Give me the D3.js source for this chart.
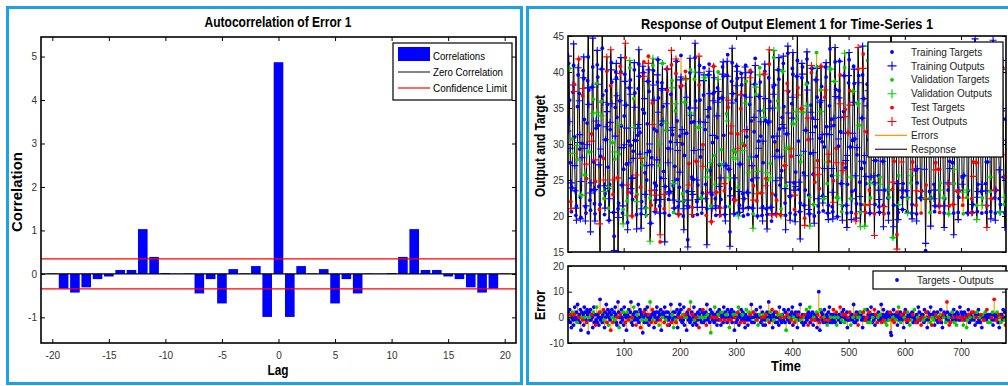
<!DOCTYPE html>
<html>
<head>
<meta charset="utf-8">
<script src="https://cdnjs.cloudflare.com/ajax/libs/d3/7.8.5/d3.min.js"></script>
<style>
  body { margin: 0; background: #fff; }
  svg { display: block; font-family: "Liberation Sans", Arial, Helvetica, sans-serif; }
  .tick text { fill: #333; font-size: 10px; }
  .tick line { stroke: #000; stroke-width: 1; }
</style>
</head>
<body>
<svg id="chart" width="1008" height="386"></svg>
<script>
// ---- autocorrelation of error
const lags = [-20,-19,-18,-17,-16,-15,-14,-13,-12,-11,-10,-9,-8,-7,-6,-5,-4,-3,-2,-1,0,
              1,2,3,4,5,6,7,8,9,10,11,12,13,14,15,16,17,18,19,20];
const correlations = [0.01,-0.34,-0.43,-0.31,-0.12,-0.06,0.09,0.09,1.03,0.39,0.02,0.005,0.01,-0.45,-0.12,-0.68,0.11,0.01,0.18,-0.99,
                      4.87,
                      -0.99,0.18,0.01,0.11,-0.68,-0.12,-0.45,0.01,0.005,0.02,0.39,1.03,0.09,0.09,-0.06,-0.12,-0.31,-0.43,-0.34,0.01];
const confidenceLimit = 0.345;
const lagTicks = [-20,-15,-10,-5,0,5,10,15,20];
const corrTicks = [-1,0,1,2,3,4,5];

// ---- response of output element 1 (time steps 1..780)
const targets = [
  33.8,41.2,40.5,36.1,27.4,22.0,20.6,23.9,30.7,37.2, 40.9,38.3,31.0,23.5,20.1,21.4,27.8,35.2,39.6,41.8, 37.0,29.3,22.6,19.8,22.9,30.1,36.7,40.2,39.1,33.4,
  25.7,21.3,20.4,25.2,32.9,38.8,42.1,37.5,28.9,22.2, 20.8,23.6,31.4,37.9,40.7,36.2,27.5,21.7,20.3,24.8, 32.2,38.4,41.0,39.3,32.6,24.1,20.9,21.6,28.3,35.9,
  40.4,43.3,36.8,28.0,22.4,20.2,23.1,30.6,37.4,40.1, 35.5,26.8,21.1,19.4,24.4,32.0,38.1,41.3,38.6,30.2, 23.0,20.5,17.2,27.9,35.1,40.0,39.2,33.7,25.3,21.0,
  21.8,28.6,36.0,40.8,40.0,32.5,24.3,20.4,20.9,26.5, 33.9,39.7,42.0,35.4,27.2,22.1,19.1,23.3,30.4,37.8, 40.6,38.9,29.8,23.2,20.0,22.3,29.0,36.3,40.3,37.1,
  30.5,22.7,20.2,23.0,31.2,37.7,41.1,39.4,31.6,24.0, 20.3,22.0,27.1,34.8,39.9,41.4,34.3,26.0,21.2,20.1, 25.0,32.8,38.7,42.2,37.3,29.0,22.5,19.0,21.5,28.1,
  35.7,40.9,40.2,32.1,24.6,20.6,20.9,24.2,31.8,38.6, 41.7,36.4,27.0,21.4,16.4,25.3,32.7,38.5,41.2,35.2, 26.2,21.0,20.4,24.1,31.9,37.6,40.4,37.4,29.4,22.3,
  20.1,23.4,30.3,36.9,41.0,38.8,31.3,24.2,20.5,21.1, 26.9,34.6,39.8,41.5,33.2,25.1,21.3,20.2,24.0,31.1, 37.9,42.3,38.1,30.0,23.1,20.0,22.1,28.4,35.8,40.1,
  39.0,31.5,23.4,16.7,21.2,27.3,35.0,39.9,40.3,33.0, 25.4,21.2,20.0,25.1,33.1,39.0,42.0,36.0,27.6,22.0, 20.2,24.3,32.3,38.2,40.9,36.1,28.2,22.5,20.4,23.2,
  29.9,36.8,40.6,39.2,32.0,24.4,20.1,21.0,26.4,33.8, 39.6,41.1,35.0,26.3,21.4,19.2,23.0,30.2,37.0,40.8, 37.2,28.4,22.4,20.1,23.3,30.9,37.8,40.0,36.3,27.1,
  21.2,20.1,22.3,29.2,36.4,40.7,39.4,31.2,23.5,20.2, 21.3,27.0,34.2,39.5,42.4,35.1,26.5,21.3,17.8,23.8, 31.5,38.7,41.3,37.0,29.1,22.3,20.3,22.2,28.9,36.1,
  40.8,39.1,31.4,24.0,20.4,21.5,27.2,34.9,39.8,38.2, 30.1,23.1,20.0,22.4,29.8,36.7,40.9,38.7,31.0,23.3, 20.2,21.2,28.0,35.5,40.2,40.0,33.2,25.0,21.1,20.3,
  24.2,31.7,38.3,41.9,36.9,28.3,22.1,20.0,23.2,30.4, 36.6,40.6,38.6,31.1,23.2,20.1,21.3,27.4,34.7,39.7, 40.1,33.3,25.2,21.0,20.2,25.0,33.0,39.2,41.1,35.9,
  27.3,21.2,19.3,23.1,31.0,37.9,42.0,38.2,30.3,22.9, 20.3,22.2,29.1,36.0,40.3,39.0,32.1,24.3,20.2,21.0, 26.3,33.7,40.1,41.2,35.2,27.0,21.8,20.1,24.2,31.4,
  38.4,42.6,37.3,29.5,22.7,20.4,22.8,28.3,35.6,40.5, 39.7,32.8,24.6,20.9,20.2,26.1,33.5,39.4,41.6,37.8, 30.4,23.7,20.6,21.8,27.5,34.9,39.2,40.7,34.4,26.0,
  21.5,19.7,23.6,31.9,38.3,41.8,38.5,30.6,22.9,20.3, 22.6,28.7,35.4,39.9,40.5,33.6,25.8,21.6,20.0,24.7, 32.4,38.9,42.7,36.5,27.7,21.4,20.5,23.8,30.8,37.5,
  40.8,38.0,30.3,22.8,20.7,22.4,29.6,36.5,40.7,39.3, 32.4,24.5,20.4,21.5,27.6,35.3,43.2,40.4,33.4,25.6, 21.3,20.6,24.9,32.6,38.7,41.4,37.6,29.4,22.6,19.9,
  22.5,29.7,37.4,41.5,39.6,31.7,24.5,20.6,21.4,27.3, 34.5,39.5,40.6,34.8,26.7,21.5,20.4,24.4,31.6,38.5, 41.7,37.4,29.6,22.4,20.5,23.4,30.5,37.3,40.8,38.4,
  30.7,23.6,20.3,21.7,28.5,35.6,40.4,39.5,32.6,24.7, 20.5,21.6,26.6,33.6,39.6,42.5,36.3,27.4,21.6,20.5, 24.5,31.7,38.3,41.6,38.4,30.6,23.6,20.4,22.5,29.4,
  36.6,41.4,39.6,32.4,24.6,20.3,21.6,27.7,34.6,39.7, 40.4,33.5,25.6,21.3,20.5,25.4,33.5,39.5,41.6,36.4, 27.6,21.5,20.3,23.6,31.4,38.6,42.4,38.5,30.4,22.5,
  20.4,22.6,29.5,36.4,40.6,39.4,31.6,23.7,17.0,21.5, 27.6,35.4,40.4,40.5,33.5,17.4,21.5,20.5,25.6,33.4, 39.6,41.5,36.7,28.5,22.6,20.9,24.5,31.6,38.4,41.4,
  38.6,30.5,23.5,20.6,22.4,29.6,36.5,40.4,39.5,32.4, 24.6,20.4,21.6,27.5,35.4,40.6,41.4,34.5,26.4,21.5, 20.3,24.6,32.5,39.4,41.6,37.5,28.6,22.5,20.4,23.5,
  31.4,38.5,41.3,37.6,29.5,22.4,15.2,24.3,31.5,37.4, 40.6,38.5,30.4,23.4,20.5,22.6,29.5,36.4,40.5,39.6, 32.5,24.4,20.6,21.4,27.4,35.6,40.4,41.3,34.6,26.5,
  21.4,20.5,24.6,32.4,38.5,41.4,37.6,29.4,22.5,20.4, 22.4,29.6,36.5,40.6,39.4,31.5,23.6,20.3,21.4,27.6, 34.4,39.5,42.3,36.5,27.4,21.6,20.4,24.5,31.6,38.4,
  41.3,38.6,30.5,23.4,20.5,22.6,28.4,35.5,40.4,40.3, 33.6,25.4,21.5,20.3,25.6,33.5,39.4,41.5,36.6,28.4, 22.6,20.4,23.5,30.6,37.4,40.5,37.6,29.5,22.4,20.5,
  21.6,27.5,34.6,39.4,41.6,35.5,27.4,21.5,20.6,24.4, 31.6,38.5,42.5,38.4,30.5,23.4,20.4,22.5,29.6,36.5, 40.4,39.5,32.6,24.5,20.5,21.4,27.5,35.4,40.5,38.6,
  31.5,23.4,20.6,22.4,30.5,37.6,41.4,38.5,30.6,22.5, 20.4,23.6,31.4,38.6,41.5,37.4,29.6,22.4,20.5,21.6, 28.5,35.6,40.4,40.6,33.5,25.4,21.6,20.4,25.5,33.4
];
// error = target - output
const errors = [
  2,-1,0,3,-2,1,-4,0,2,-1, -3,1,4,0,-1,2,-2,5,-1,0, 1,-2,3,-5,0,2,-1,1,-3,4,
  0,2,-1,-2,3,1,-6,2,0,-1, 3,-1,1,0,-4,2,4,-2,1,-3, -1,4,-2,1,0,-3,2,7,-1,2,
  0,-2,1,3,-1,-4,2,0,5,-2, 1,3,-3,0,2,-1,-5,1,3,0, -2,0,2,-1,4,1,-2,-3,0,6,
  2,-4,0,1,-2,3,0,-1,2,-3, 4,1,-2,0,-5,2,1,-1,3,0, -1,2,6,-2,0,-3,1,4,-1,2,
  0,-3,2,1,-1,5,-2,0,3,-4, 2,1,-1,-6,0,2,-2,3,1,-1, -2,4,0,1,-3,-1,6,0,-2,1,
  3,-1,2,-4,1,0,-2,2,4,-1, 0,2,-3,1,-1,3,-5,1,0,2, 1,-2,4,0,-1,2,0,-3,2,-1,
  -3,0,1,5,-2,1,-1,2,-4,0, 2,-1,-2,0,3,-4,1,0,2,5, -1,3,0,-2,1,-1,4,-3,0,1,
  0,-5,2,1,-1,3,0,-2,6,-1, 2,1,-3,0,4,-1,-2,1,0,-3, -1,2,0,-4,1,3,-1,0,-2,2,
  3,-2,1,0,-1,2,-3,5,1,-1, 0,1,-2,3,-6,0,2,-1,1,0, -2,4,1,-1,0,-3,2,1,-1,3,
  1,-1,-3,2,0,1,-2,4,-1,0, 2,0,1,-2,3,-1,0,-4,2,1, -1,3,-2,0,1,2,-5,0,1,-2,
  0,-1,2,4,-3,1,0,-2,3,-1, 1,2,-1,0,-2,-4,1,3,-1,0, -3,0,2,-1,1,0,5,-2,0,2,
  2,-2,0,1,-1,3,-1,0,-3,1, 0,1,4,-2,0,-1,2,-3,1,0, -1,-3,1,0,2,-1,0,6,-2,1,
  2,0,-1,3,-4,1,-1,0,2,-2, 0,2,-2,1,0,-3,4,-1,0,1, -2,1,0,-1,3,0,-2,2,-5,0,
  1,-1,3,0,-2,1,0,-1,2,4, -3,0,1,-2,1,2,-1,0,-4,1, 2,-1,0,5,-1,0,-2,1,0,-3,
  0,1,-2,0,3,-1,1,-3,2,0, 4,-2,1,-1,0,2,-3,0,1,-1, -1,0,2,-4,1,-1,10,-2,-5,3,
  0,2,-1,1,-2,0,3,-1,0,-2, 1,-3,0,2,-1,4,-2,0,1,-1, -2,1,3,-1,0,-2,1,2,-3,0,
  0,-1,1,0,4,-2,0,-1,2,1, 3,0,-2,1,-1,0,2,-4,0,-1, -1,2,0,-3,1,1,-1,0,5,-2,
  0,-2,1,2,-1,0,-3,1,0,2, 2,1,-1,0,-4,2,0,-1,3,-1, -1,0,3,-2,1,-1,2,0,-2,4,
  1,-2,0,1,-1,3,-3,0,1,0, -2,0,2,-1,0,1,-1,5,-2,1, 0,3,-1,0,-2,1,0,-3,2,-1,
  1,-1,0,2,-6,-7,1,-1,0,3, -2,0,1,-1,0,2,-3,1,4,-1, 0,2,-2,1,-1,0,1,-4,0,2,
  3,-1,0,-2,2,1,-1,0,-3,1, -1,0,2,1,-2,0,3,-1,0,-2, 1,-2,0,4,-1,2,-1,0,-3,1,
  0,1,-1,-2,3,0,-1,2,0,-4, 2,-1,0,1,-2,4,1,-3,0,1, -1,2,-3,0,1,-1,0,2,-2,0,
  0,-1,1,3,-2,0,-4,1,0,2, 1,0,-2,-1,6,2,-1,0,-3,1, -2,1,0,2,-1,0,3,-2,1,-1,
  0,-3,2,0,1,-1,0,4,-1,0, 2,1,-1,-3,0,2,-1,0,1,-4, -1,0,3,1,-2,0,1,-1,2,0,
  0,2,-1,0,-3,1,0,2,-2,1, 3,-1,0,-2,1,0,-4,1,0,-1, -1,0,2,1,-1,3,0,-2,1,0,
  0,-2,1,0,-1,2,-3,1,7,-1, 1,0,-1,2,0,-2,1,-4,0,1, -2,1,0,-1,3,0,-1,2,-3,0
];
// t = training, v = validation, s = test
const subsets = (
  'ttvttsttvt tsttttvtts ttttvtsttt vttsttttvt ttsttvttts tvttttsttv tttsvtttts ttvtttsttv ' +
  'sttvttttst tvtsttttvt ttsttvtstt vtttsttvtt tstvttttts ttvttstttv tttsttvtst svttttsttt ' +
  'ttvtstttvt tsttvttstt ttttsvttvt tvsttttstt ttstvtttvs vttttsttvt tstttvttst ttvstttvtt ' +
  'sttvttstvt ttttvsttts tvttsttvtt tstvttttst ttvttstvtt stttvttsvt ttsvtttstt vtttsttvtt ' +
  'ttvtsttttv stttvtstvt tvttstttvs ttsttvttst vttsttvttt tstvttttsv ttvttsttvt sttvtttstt ' +
  'tvtsttvtts ttttvsttvt tsttvttstt vttstttvts ttvtsttstv sttttvtstt tvttsttvtt ttstvttsvt ' +
  'vtttsttvts ttvsttttst tstvtttvtt ttsttvstvt vttttsttvs tstvttstvt ttvttsttst svtttvttst ' +
  'ttstvttvtt tvtstttsvt sttvtsttvt ttvsttttvs tsttvtstvt vttsttvtts ttvtstttst stvttvtstt ' +
  'ttstvttsvt vtttstvtts tsvttttsvt ttvtsttvst sttvtstvtt tvtsttvtts ttsvtttstv vttstvttst ' +
  'tstvttsvtt ttvtsttvts stvttstvtt tvtstvttst ttsvttstvt vtstttvtst'
).replace(/ /g, '').split('');
const timeTicks = [100,200,300,400,500,600,700];
const responseTicks = [15,20,25,30,35,40,45];
const errorTicks = [-10,0,10,20];

const BLUE = '#0000ff', GREEN = '#00cc00', RED = '#ff0000', ORANGE = '#ff9a00', FRAME = '#1ca3e4';
const setColor = { t: BLUE, v: GREEN, s: RED };

const svg = d3.select('#chart');

// panel frames
svg.append('rect').attr('x', 7.5).attr('y', 7.5).attr('width', 514).attr('height', 376)
  .attr('fill', 'none').attr('stroke', FRAME).attr('stroke-width', 3);
svg.append('rect').attr('x', 527.5).attr('y', 7.5).attr('width', 500).attr('height', 376)
  .attr('fill', 'none').attr('stroke', FRAME).attr('stroke-width', 3);

function fit(sel, w) {
  return sel.attr('textLength', w).attr('lengthAdjust', 'spacingAndGlyphs');
}

function label(x, y, str, size, bold, w, rotate) {
  const t = svg.append('text')
    .attr('transform', rotate ? `translate(${x},${y}) rotate(-90)` : `translate(${x},${y})`)
    .attr('text-anchor', 'middle')
    .attr('font-size', size)
    .attr('font-weight', bold ? 'bold' : 'normal')
    .attr('fill', '#000')
    .text(str);
  if (w) fit(t, w);
  return t;
}

// MATLAB-like boxed axes with inward ticks on all sides
function boxAxes(g, x, y, xTicks, yTicks, xLabels, xPad) {
  const [x0, x1] = x.range(), [yb, yt] = y.range();
  const none = () => '';
  g.append('g').attr('transform', `translate(0,${yb})`)
    .call(d3.axisBottom(x).tickValues(xTicks).tickSizeInner(-4).tickSizeOuter(0)
      .tickPadding(xPad || 0).tickFormat(xLabels ? (d) => String(d) : none));
  g.append('g').attr('transform', `translate(0,${yt})`)
    .call(d3.axisTop(x).tickValues(xTicks).tickSizeInner(-4).tickSizeOuter(0).tickFormat(none));
  g.append('g').attr('transform', `translate(${x0},0)`)
    .call(d3.axisLeft(y).tickValues(yTicks).tickSizeInner(-4).tickSizeOuter(0)
      .tickPadding(4).tickFormat((d) => String(d)));
  g.append('g').attr('transform', `translate(${x1},0)`)
    .call(d3.axisRight(y).tickValues(yTicks).tickSizeInner(-4).tickSizeOuter(0).tickFormat(none));
  g.selectAll('.domain').remove();
  g.append('rect').attr('x', x0).attr('y', yt).attr('width', x1 - x0).attr('height', yb - yt)
    .attr('fill', 'none').attr('stroke', '#000').attr('stroke-width', 1.6);
}

// ================= left: autocorrelation =================
const leftG = svg.append('g');
const xL = d3.scaleLinear().domain([-21, 21]).range([41, 516]);
const yL = d3.scaleLinear().domain([-1.59, 5.45]).range([343, 37]);
const bw = (xL(1) - xL(0)) * 0.85;

leftG.selectAll('rect.bar').data(lags).join('rect')
  .attr('class', 'bar')
  .attr('x', (d) => xL(d) - bw / 2)
  .attr('width', bw)
  .attr('y', (d, i) => yL(Math.max(0, correlations[i])))
  .attr('height', (d, i) => Math.abs(yL(correlations[i]) - yL(0)))
  .attr('fill', BLUE);

leftG.append('line').attr('x1', xL(-21)).attr('x2', xL(21))
  .attr('y1', yL(0)).attr('y2', yL(0)).attr('stroke', '#000').attr('stroke-width', 1.2);
[confidenceLimit, -confidenceLimit].forEach((c) => {
  leftG.append('line').attr('x1', xL(-21)).attr('x2', xL(21))
    .attr('y1', yL(c)).attr('y2', yL(c)).attr('stroke', RED).attr('stroke-width', 1.2);
});
boxAxes(leftG, xL, yL, lagTicks, corrTicks, true, 9);

// left legend
const lg = svg.append('g');
lg.append('rect').attr('x', 393).attr('y', 43).attr('width', 119).attr('height', 57)
  .attr('fill', '#fff').attr('stroke', '#000').attr('stroke-width', 1.2);
lg.append('rect').attr('x', 398).attr('y', 47).attr('width', 32).attr('height', 14).attr('fill', BLUE);
lg.append('line').attr('x1', 398).attr('x2', 430).attr('y1', 72).attr('y2', 72).attr('stroke', '#333').attr('stroke-width', 1.2);
lg.append('line').attr('x1', 398).attr('x2', 430).attr('y1', 88).attr('y2', 88).attr('stroke', RED).attr('stroke-width', 1.2);
[['Correlations', 56, 52], ['Zero Correlation', 72, 70], ['Confidence Limit', 88, 74]].forEach(([s, y, w]) => {
  fit(lg.append('text').attr('x', 433).attr('y', y + 4).attr('font-size', 11).text(s), w);
});

label(278, 27, 'Autocorrelation of Error 1', 14, true, 147);
label(278, 375, 'Lag', 14, true, 21);
label(22, 192, 'Correlation', 14, true, 80, true);

// ================= right: response =================
const points = targets.map((v, i) => ({ t: i + 1, target: v, output: v - errors[i], error: errors[i], set: subsets[i] }));

const xR = d3.scaleLinear().domain([1, 780]).range([568, 1006]);
const yR = d3.scaleLinear().domain([15, 45]).range([252, 36]);
const yE = d3.scaleLinear().domain([-10, 20]).range([343, 266]);

const defs = svg.append('defs');
defs.append('clipPath').attr('id', 'clipR').append('rect')
  .attr('x', 568).attr('y', 36).attr('width', 438).attr('height', 216);
defs.append('clipPath').attr('id', 'clipE').append('rect')
  .attr('x', 568).attr('y', 266).attr('width', 438).attr('height', 77);

const plus = 'M-3.5,0H3.5M0,-3.5V3.5';

const respG = svg.append('g');
const respData = respG.append('g').attr('clip-path', 'url(#clipR)');
respData.selectAll('line.err').data(points).join('line')
  .attr('x1', (d) => xR(d.t)).attr('x2', (d) => xR(d.t))
  .attr('y1', (d) => yR(d.target)).attr('y2', (d) => yR(d.output))
  .attr('stroke', ORANGE).attr('stroke-width', 1.2);
respData.append('path').datum(points)
  .attr('d', d3.line().x((d) => xR(d.t)).y((d) => yR(d.output)))
  .attr('fill', 'none').attr('stroke', '#000').attr('stroke-width', 1);
['t', 'v', 's'].forEach((s) => {
  const sub = points.filter((d) => d.set === s);
  respData.append('g').selectAll('circle').data(sub).join('circle')
    .attr('cx', (d) => xR(d.t)).attr('cy', (d) => yR(d.target)).attr('r', 1.9)
    .attr('fill', setColor[s]);
  respData.append('g').selectAll('path').data(sub).join('path')
    .attr('transform', (d) => `translate(${xR(d.t)},${yR(d.output)})`)
    .attr('d', plus).attr('stroke', setColor[s]).attr('stroke-width', 1.1).attr('fill', 'none');
});
boxAxes(respG, xR, yR, timeTicks, responseTicks, false, 0);

// right legend
const rg = svg.append('g');
rg.append('rect').attr('x', 868).attr('y', 42).attr('width', 135).attr('height', 115)
  .attr('fill', '#fff').attr('stroke', '#000').attr('stroke-width', 1.2);
const legendItems = [
  ['Training Targets', BLUE, 'dot'], ['Training Outputs', BLUE, 'plus'],
  ['Validation Targets', GREEN, 'dot'], ['Validation Outputs', GREEN, 'plus'],
  ['Test Targets', RED, 'dot'], ['Test Outputs', RED, 'plus'],
  ['Errors', ORANGE, 'line'], ['Response', '#333', 'line']
];
legendItems.forEach(([s, c, kind], i) => {
  const y = 52 + i * 13.9;
  if (kind === 'dot') rg.append('circle').attr('cx', 892).attr('cy', y).attr('r', 1.9).attr('fill', c);
  if (kind === 'plus') rg.append('path').attr('transform', `translate(892,${y})`).attr('d', 'M-4.5,0H4.5M0,-4.5V4.5')
    .attr('stroke', c).attr('stroke-width', 1.1).attr('fill', 'none');
  if (kind === 'line') rg.append('line').attr('x1', 875).attr('x2', 907).attr('y1', y).attr('y2', y)
    .attr('stroke', c).attr('stroke-width', 1.3);
  rg.append('text').attr('x', 911).attr('y', y + 3.6).attr('font-size', 10).attr('fill', '#222').text(s);
});

// error subplot
const errG = svg.append('g');
const errData = errG.append('g').attr('clip-path', 'url(#clipE)');
errData.selectAll('line').data(points).join('line')
  .attr('x1', (d) => xR(d.t)).attr('x2', (d) => xR(d.t))
  .attr('y1', yE(0)).attr('y2', (d) => yE(d.error))
  .attr('stroke', ORANGE).attr('stroke-width', 1.1);
['t', 'v', 's'].forEach((s) => {
  errData.append('g').selectAll('circle').data(points.filter((d) => d.set === s)).join('circle')
    .attr('cx', (d) => xR(d.t)).attr('cy', (d) => yE(d.error)).attr('r', 1.9)
    .attr('fill', setColor[s]);
});
boxAxes(errG, xR, yE, timeTicks, errorTicks, true, 6);

const eg = svg.append('g');
eg.append('rect').attr('x', 873).attr('y', 271).attr('width', 140).attr('height', 18)
  .attr('fill', '#fff').attr('stroke', '#000').attr('stroke-width', 1.2);
eg.append('circle').attr('cx', 897).attr('cy', 280).attr('r', 1.9).attr('fill', BLUE);
eg.append('text').attr('x', 917).attr('y', 283.6).attr('font-size', 10).attr('fill', '#222').text('Targets - Outputs');

label(787, 29, 'Response of Output Element 1 for Time-Series 1', 14, true, 292);
label(786, 371, 'Time', 14, true, 30);
label(545, 146, 'Output and Target', 14, true, 102, true);
label(545, 305, 'Error', 14, true, 30, true);
</script>
</body>
</html>
